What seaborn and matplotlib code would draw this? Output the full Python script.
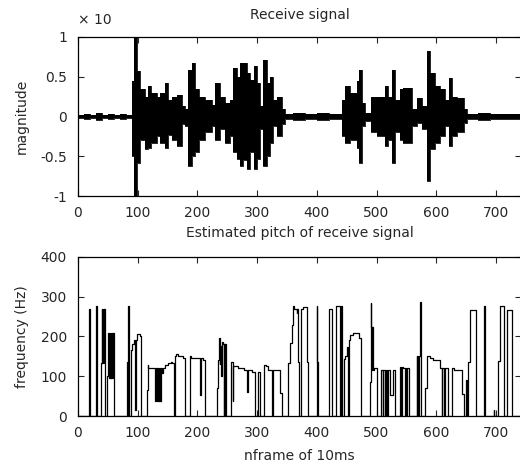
import numpy as np
import pandas as pd
import matplotlib
matplotlib.use("Agg")
import matplotlib.pyplot as plt
import seaborn as sns

# ---------------- data ----------------
# Received waveform: envelope segments (start frame, upper, lower), drawn as steps
env_frame = [0, 10, 20, 30, 40, 50, 60, 70, 80, 91, 93, 98, 104, 112, 118, 123, 132, 137,
             145, 151, 157, 165, 174, 179, 185, 191, 196, 202, 213, 224, 230, 238, 247,
             255, 260, 266, 272, 277, 283, 288, 294, 299, 305, 310, 316, 322, 327, 333,
             341, 347, 360, 380, 400, 420, 442, 448, 456, 467, 471, 475, 481, 490, 501,
             514, 520, 526, 531, 540, 545, 559, 567, 576, 584, 590, 598, 607, 615, 621,
             626, 635, 646, 651, 670, 690, 710, 745]
env_hi = [0.02, 0.03, 0.02, 0.04, 0.02, 0.03, 0.02, 0.03, 0.02, 0.45, 1.0, 0.57, 0.34, 0.25,
          0.38, 0.30, 0.25, 0.30, 0.42, 0.21, 0.25, 0.27, 0.13, 0.10, 0.59, 0.67, 0.34, 0.25,
          0.21, 0.15, 0.42, 0.25, 0.17, 0.21, 0.61, 0.50, 0.67, 0.67, 0.55, 0.46, 0.63, 0.42,
          0.13, 0.71, 0.42, 0.50, 0.21, 0.25, 0.09, 0.03, 0.04, 0.03, 0.04, 0.03, 0.21, 0.38,
          0.30, 0.45, 0.59, 0.17, 0.05, 0.25, 0.25, 0.38, 0.25, 0.59, 0.21, 0.34, 0.36, 0.09,
          0.23, 0.13, 0.82, 0.55, 0.38, 0.34, 0.21, 0.48, 0.25, 0.23, 0.09, 0.03, 0.04, 0.03,
          0.03, 0.03]
env_lo = [-0.02, -0.03, -0.02, -0.04, -0.02, -0.03, -0.02, -0.03, -0.02, -0.5, -1.0, -0.58,
          -0.29, -0.41, -0.39, -0.33, -0.25, -0.33, -0.39, -0.23, -0.29, -0.37, -0.10, -0.12,
          -0.62, -0.50, -0.45, -0.29, -0.20, -0.12, -0.29, -0.16, -0.33, -0.25, -0.45, -0.54,
          -0.62, -0.55, -0.66, -0.45, -0.66, -0.54, -0.16, -0.62, -0.50, -0.33, -0.12, -0.25,
          -0.10, -0.03, -0.04, -0.03, -0.04, -0.03, -0.25, -0.33, -0.29, -0.40, -0.58, -0.12,
          -0.05, -0.20, -0.25, -0.37, -0.29, -0.58, -0.20, -0.29, -0.33, -0.12, -0.08, -0.16,
          -0.81, -0.41, -0.33, -0.25, -0.12, -0.37, -0.25, -0.20, -0.08, -0.03, -0.04, -0.03,
          -0.03, -0.03]

# Estimated pitch (frame, Hz) drawn as a post-step line
pitch_frame = [0, 19, 20, 30, 31, 38, 40, 41, 42, 43, 44, 45, 49, 51, 52, 53, 54, 55, 56, 57,
               58, 59, 60, 82, 83, 84, 85, 89, 91, 93, 96, 97, 98, 103, 106, 115, 117, 118,
               129, 130, 132, 133, 134, 135, 136, 137, 138, 139, 140, 143, 146, 150, 155,
               158, 160, 162, 164, 168, 172, 176, 179, 188, 190, 204, 206, 210, 213, 232,
               234, 236, 237, 238, 239, 241, 243, 244, 245, 246, 247, 248, 256, 259, 260,
               268, 278, 283, 284, 287, 291, 297, 301, 304, 311, 315, 319, 325, 326, 338,
               341, 351, 355, 358, 360, 361, 366, 367, 369, 370, 373, 377, 383, 385, 400,
               401, 402, 420, 426, 432, 438, 439, 440, 442, 445, 448, 450, 453, 454, 456,
               461, 470, 474, 489, 490, 491, 492, 493, 494, 495, 500, 507, 510, 511, 514,
               515, 518, 519, 523, 528, 531, 539, 541, 542, 545, 548, 549, 550, 551, 555,
               567, 568, 569, 570, 571, 573, 574, 581, 584, 590, 595, 607, 609, 610, 613,
               614, 620, 626, 630, 643, 647, 650, 652, 653, 654, 657, 667, 680, 681, 682,
               696, 697, 703, 707, 712, 713, 718, 727, 745]
pitch_hz = [0, 270, 0, 277, 0, 133, 270, 133, 270, 133, 270, 0, 100, 210, 95, 210, 95, 210,
            95, 210, 95, 210, 0, 137, 0, 277, 0, 165, 180, 190, 15, 190, 206, 200, 0, 65, 128,
            120, 38, 120, 38, 120, 38, 120, 38, 120, 38, 120, 107, 120, 128, 133, 137, 133, 0,
            150, 155, 152, 150, 145, 0, 150, 145, 53, 145, 140, 0, 70, 140, 195, 130, 175,
            100, 185, 180, 0, 180, 0, 180, 0, 137, 38, 125, 120, 117, 61, 117, 116, 111, 0,
            111, 0, 128, 125, 116, 0, 116, 58, 0, 133, 183, 229, 277, 268, 260, 268, 137, 0,
            270, 275, 137, 0, 277, 137, 0, 270, 0, 277, 270, 0, 277, 0, 143, 152, 174, 0, 190,
            203, 208, 196, 0, 86, 283, 225, 115, 225, 115, 120, 0, 116, 0, 116, 0, 116, 0, 116,
            53, 116, 0, 124, 0, 124, 120, 0, 120, 0, 120, 0, 152, 0, 152, 0, 152, 287, 0, 70,
            150, 145, 140, 120, 0, 120, 0, 120, 0, 120, 116, 56, 0, 90, 0, 90, 137, 266, 0,
            277, 115, 0, 15, 0, 139, 277, 277, 0, 266, 0, 0]

x_ticks = [0, 100, 200, 300, 400, 500, 600, 700]
top_yticks = [-1, -0.5, 0, 0.5, 1]
top_yticklabels = ["-1", "-0.5", "0", "0.5", "1"]
bot_yticks = [0, 100, 200, 300, 400]

# ---------------- plotting ----------------
sns.set_style("ticks")
plt.rcParams["font.family"] = ["DejaVu Sans"]
FS = 10

fig = plt.figure(figsize=(5.2, 4.68), dpi=100)
ax1 = fig.add_axes([0.15, 0.581, 0.852, 0.340])
ax2 = fig.add_axes([0.15, 0.111, 0.852, 0.340])

env = pd.DataFrame({"frame": env_frame, "hi": env_hi, "lo": env_lo})
ax1.fill_between(env["frame"], env["lo"], env["hi"], step="post", color="black", lw=0)
sns.lineplot(data=env, x="frame", y="hi", ax=ax1, color="black", lw=0.6,
             drawstyle="steps-post", estimator=None, sort=False)
sns.lineplot(data=env, x="frame", y="lo", ax=ax1, color="black", lw=0.6,
             drawstyle="steps-post", estimator=None, sort=False)

pitch = pd.DataFrame({"frame": pitch_frame, "hz": pitch_hz})
sns.lineplot(data=pitch, x="frame", y="hz", ax=ax2, color="black", lw=0.9,
             drawstyle="steps-post", estimator=None, sort=False)

for ax in (ax1, ax2):
    ax.set_xlim(0, 742)
    ax.set_xticks(x_ticks)
    ax.set_xticklabels([str(t) for t in x_ticks], fontsize=FS)
    ax.tick_params(direction="in", top=True, right=True, length=4, width=0.8,
                   labelsize=FS)
    ax.tick_params(axis="x", pad=7)
    ax.tick_params(axis="y", pad=8)
    for s in ax.spines.values():
        s.set_linewidth(0.9)
        s.set_color("black")
    ax.grid(False)

ax1.set_ylim(-1, 1)
ax1.set_yticks(top_yticks)
ax1.set_yticklabels(top_yticklabels)
ax1.set_xlabel("")
ax1.set_ylabel("magnitude", fontsize=FS, labelpad=8)
ax1.set_title("Receive signal", fontsize=FS, pad=13)
ax1.text(0.0, 1.065, "× 10", transform=ax1.transAxes, fontsize=FS, ha="left", va="bottom")

ax2.set_ylim(0, 400)
ax2.set_yticks(bot_yticks)
ax2.set_yticklabels([str(t) for t in bot_yticks])
ax2.set_ylabel("frequency (Hz)", fontsize=FS, labelpad=8)
ax2.set_xlabel("nframe of 10ms", fontsize=FS, labelpad=7)
ax2.set_title("Estimated pitch of receive signal", fontsize=FS, pad=14)

fig.savefig("out.png", dpi=100)
